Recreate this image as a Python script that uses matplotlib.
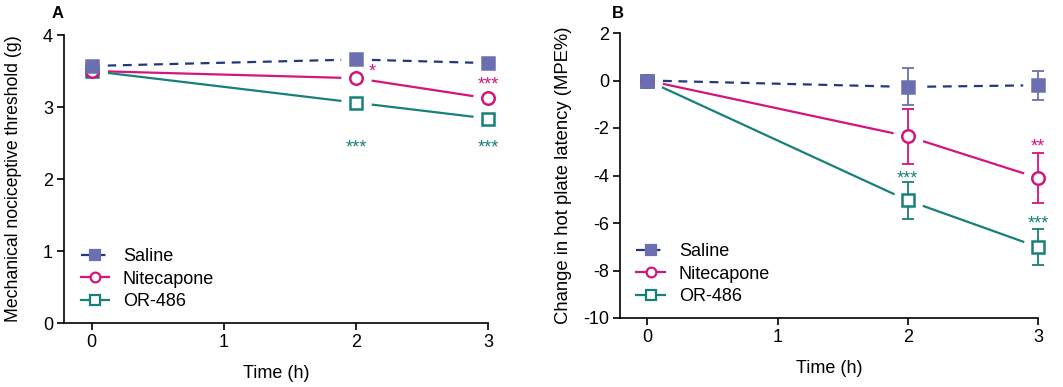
import matplotlib

matplotlib.use("Agg")
import matplotlib.pyplot as plt

plt.rcParams["font.family"] = ["Liberation Sans", "DejaVu Sans"]
plt.rcParams["axes.unicode_minus"] = False

# ---- data ----
time_h = [0, 2, 3]
groups = ["Saline", "Nitecapone", "OR-486"]

# panel A: mechanical nociceptive threshold (g)
mech_saline = [3.57, 3.66, 3.61]
mech_nite = [3.50, 3.40, 3.12]
mech_or = [3.50, 3.06, 2.84]

# panel B: change in hot plate latency (MPE%) with error bars
hot_saline = [0.0, -0.27, -0.20]
hot_saline_err = [0.0, 0.78, 0.62]
hot_nite = [0.0, -2.35, -4.10]
hot_nite_err = [0.0, 1.16, 1.05]
hot_or = [0.0, -5.05, -7.01]
hot_or_err = [0.0, 0.78, 0.77]

# significance marks: (x, y, text, group index)
mech_marks = [(2.12, 3.48, "*", 1), (3.0, 3.31, "***", 1),
              (2.0, 2.43, "***", 2), (3.0, 2.43, "***", 2)]
hot_marks = [(2.0, -4.15, "***", 2), (3.0, -2.8, "**", 1),
             (3.0, -6.05, "***", 2)]

line_colors = ["#23377c", "#d4157c", "#18807a"]
face_colors = ["#6b6fb2", "white", "white"]
edge_colors = ["#6b6fb2", "#d4157c", "#18807a"]
markers = ["s", "o", "s"]
styles = [(0, (4, 3)), "-", "-"]
zorders = [4.5, 4.2, 4.1]

fig = plt.figure(figsize=(10.63, 3.87), dpi=100)
axA = fig.add_axes([64 / 1063, 1 - 323 / 387, 424 / 1063, 288 / 387])
axB = fig.add_axes([620 / 1063, 1 - 318 / 387, 418 / 1063, 285 / 387])


def draw(ax, series, errs):
    for i, ys in enumerate(series):
        ax.plot(time_h, ys, color=line_colors[i], linestyle=styles[i],
                linewidth=1.6, zorder=1, clip_on=False)
    # white halos leave a gap between lines and symbols
    for i, ys in enumerate(series):
        ax.plot(time_h, ys, linestyle="none", marker="o", markersize=22,
                markerfacecolor="white", markeredgecolor="none", zorder=2,
                clip_on=False)
    for i, ys in enumerate(series):
        if errs is not None:
            ax.errorbar(time_h, ys, yerr=errs[i], fmt="none",
                        ecolor=edge_colors[i], elinewidth=1.3, capsize=4.3,
                        capthick=1.3, zorder=3, clip_on=False)
        ax.plot(time_h, ys, linestyle="none", marker=markers[i],
                markersize=9, markerfacecolor=face_colors[i],
                markeredgecolor=edge_colors[i], markeredgewidth=1.8,
                zorder=zorders[i], clip_on=False)


def style(ax):
    for s in ["top", "right"]:
        ax.spines[s].set_visible(False)
    for s in ["left", "bottom"]:
        ax.spines[s].set_linewidth(1.2)
    ax.tick_params(direction="out", length=5, width=1.2, labelsize=13,
                   pad=3)
    ax.set_xlim(-0.21, 3)
    ax.set_xticks([0, 1, 2, 3])
    ax.set_xlabel("Time (h)", fontsize=13, labelpad=10)


draw(axA, [mech_saline, mech_nite, mech_or], None)
style(axA)
axA.set_ylim(0, 4)
axA.set_yticks([0, 1, 2, 3, 4])
axA.set_ylabel("Mechanical nociceptive threshold (g)", fontsize=12.7)
axA.yaxis.set_label_coords(-0.099, 0.5)
for x, y, t, g in mech_marks:
    axA.text(x, y, t, color=edge_colors[g], fontsize=13, ha="center",
             va="center")

draw(axB, [hot_saline, hot_nite, hot_or],
     [hot_saline_err, hot_nite_err, hot_or_err])
style(axB)
axB.set_ylim(-10, 2)
axB.set_yticks([-10, -8, -6, -4, -2, 0, 2])
axB.set_ylabel("Change in hot plate latency (MPE%)", fontsize=13.3)
axB.yaxis.set_label_coords(-0.115, 0.5)
for x, y, t, g in hot_marks:
    axB.text(x, y, t, color=edge_colors[g], fontsize=13, ha="center",
             va="center")

for ax in (axA, axB):
    h = []
    for i in range(3):
        ln, = ax.plot([], [], color=line_colors[i], linestyle=styles[i],
                      linewidth=1.6, marker=markers[i], markersize=7,
                      markerfacecolor=face_colors[i],
                      markeredgecolor=edge_colors[i], markeredgewidth=1.6)
        h.append(ln)
    ax.legend(h, groups, loc="lower left", bbox_to_anchor=(0.022, 0.02),
              frameon=False, fontsize=13, handlelength=1.6,
              handletextpad=0.75, labelspacing=0.3, borderaxespad=0)

fig.text(52 / 1063, 1 - 14 / 387, "A", fontsize=12, fontweight="bold",
         ha="left", va="center")
fig.text(612 / 1063, 1 - 14 / 387, "B", fontsize=12, fontweight="bold",
         ha="left", va="center")

fig.savefig("out.png", dpi=100)
